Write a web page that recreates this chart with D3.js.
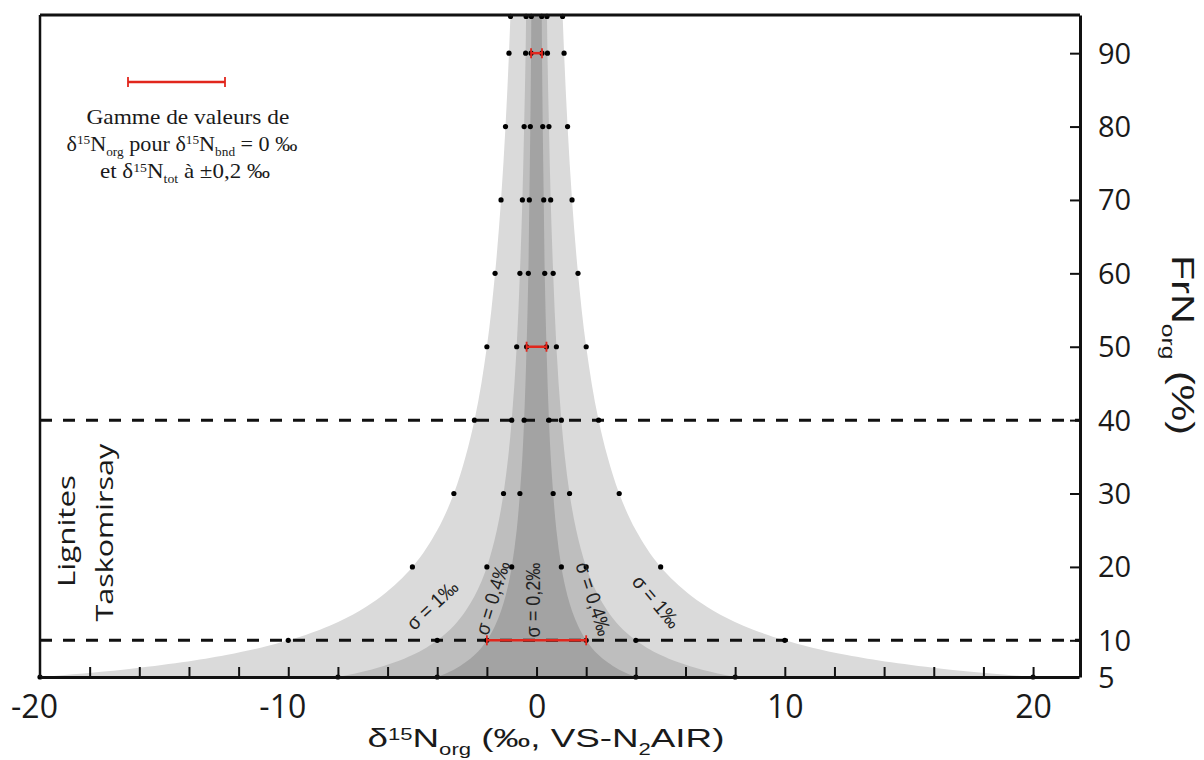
<!DOCTYPE html>
<html><head><meta charset="utf-8">
<script src="https://cdn.jsdelivr.net/npm/d3@7"></script>
<style>body{margin:0;background:#fff}svg{display:block}</style>
</head><body>
<svg id="c" width="1204" height="760"></svg>
<script>
// ---------- data ----------
const frnLevels   = [5, 6, 7, 8, 9, 10, 12, 14, 16, 18, 20, 25, 30, 35, 40, 50, 60, 70, 80, 90, 95.2];
const bandSigma1  = [20, 16.67, 14.29, 12.5, 11.11, 10, 8.33, 7.14, 6.25, 5.56, 5, 4, 3.33, 2.86, 2.5, 2, 1.67, 1.43, 1.25, 1.11, 1.05];
const bandSigma04 = [8, 6.67, 5.71, 5, 4.44, 4, 3.33, 2.86, 2.5, 2.22, 2, 1.6, 1.33, 1.14, 1, 0.8, 0.67, 0.57, 0.5, 0.44, 0.42];
const bandSigma02 = [4, 3.33, 2.86, 2.5, 2.22, 2, 1.67, 1.43, 1.25, 1.11, 1, 0.8, 0.67, 0.57, 0.5, 0.4, 0.33, 0.29, 0.25, 0.22, 0.21];

const dotLevels = [5, 10, 20, 30, 40, 50, 60, 70, 80, 90, 95];
const dotValues = [
  [-20, -8, -4, 4, 8, 20],
  [-10, -4, -2, 2, 4, 10],
  [-5, -2, -1, 1, 2, 5],
  [-3.33, -1.33, -0.67, 0.67, 1.33, 3.33],
  [-2.5, -1, -0.5, 0.5, 1, 2.5],
  [-2, -0.8, -0.4, 0.4, 0.8, 2],
  [-1.67, -0.67, -0.33, 0.33, 0.67, 1.67],
  [-1.43, -0.57, -0.29, 0.29, 0.57, 1.43],
  [-1.25, -0.5, -0.25, 0.25, 0.5, 1.25],
  [-1.11, -0.44, -0.22, 0.22, 0.44, 1.11],
  [-1.05, -0.42, -0.21, 0.21, 0.42, 1.05]
];
const errLevels = [10, 50, 90];
const errHalf   = [2, 0.4, 0.22];
const dashedLevels = [10, 40];

const xMajorTicks = [-20, -10, 0, 10, 20];
const xMinorTicks = [-18, -16, -14, -12, -10, -8, -6, -4, -2, 0, 2, 4, 6, 8, 10, 12, 14, 16, 18, 20];
const yTicks      = [10, 20, 30, 40, 50, 60, 70, 80, 90];
const yTickLabels = [5, 10, 20, 30, 40, 50, 60, 70, 80, 90];

const sigmaLabels = ["σ = 1‰", "σ = 0,4‰", "σ = 0,2‰", "σ = 0,4‰", "σ = 1‰"];

// ---------- layout ----------
const svg = d3.select("#c");
const X0 = 40, X1 = 1079, Y0 = 677, Y1 = 15;
const x = d3.scaleLinear().domain([-20, 21.85]).range([X0, X1]);
const y = d3.scaleLinear().domain([5, 95.2]).range([Y0, Y1]);
const SANS = "'Liberation Sans', Arial, sans-serif";
const MYR = "'Open Sans', sans-serif";
const SERIF = "'Liberation Serif', 'Times New Roman', serif";
const RED = "#e1261c";

svg.append("defs").append("clipPath").attr("id", "plot")
  .append("rect").attr("x", X0).attr("y", Y1).attr("width", X1 - X0).attr("height", Y0 - Y1);

// bands
const area = d3.area().curve(d3.curveMonotoneY)
  .x0(d => x(-d.v)).x1(d => x(d.v)).y(d => y(d.f));
const bandG = svg.append("g").attr("clip-path", "url(#plot)");
[[bandSigma1, "#dadada"], [bandSigma04, "#bebebe"], [bandSigma02, "#a3a3a3"]].forEach(([vals, fill]) => {
  bandG.append("path").datum(frnLevels.map((f, i) => ({ f, v: vals[i] })))
    .attr("d", area).attr("fill", fill);
});

// dashed lines
svg.append("g").selectAll("line").data(dashedLevels).join("line")
  .attr("x1", X0).attr("x2", X1).attr("y1", d => y(d)).attr("y2", d => y(d))
  .attr("stroke", "#111").attr("stroke-width", 3).attr("stroke-dasharray", "12,11");

// dots
const dots = [];
dotLevels.forEach((f, i) => dotValues[i].forEach(v => dots.push({ f, v })));
svg.append("g").selectAll("circle").data(dots).join("circle")
  .attr("cx", d => x(d.v)).attr("cy", d => y(d.f)).attr("r", 2.6).attr("fill", "#000");

// red error bars
const errG = svg.append("g").attr("stroke", RED).attr("stroke-width", 2.5).attr("fill", "none");
errLevels.forEach((f, i) => {
  const a = x(-errHalf[i]), b = x(errHalf[i]), yy = y(f);
  errG.append("line").attr("x1", a).attr("x2", b).attr("y1", yy).attr("y2", yy);
  errG.append("line").attr("x1", a).attr("x2", a).attr("y1", yy - 5).attr("y2", yy + 5).attr("stroke-width", 1.8);
  errG.append("line").attr("x1", b).attr("x2", b).attr("y1", yy - 5).attr("y2", yy + 5).attr("stroke-width", 1.8);
});

// frame: top and left
svg.append("line").attr("x1", X0).attr("x2", X1 + 1).attr("y1", Y1).attr("y2", Y1).attr("stroke", "#111").attr("stroke-width", 3);
svg.append("line").attr("x1", X0).attr("x2", X0).attr("y1", Y1).attr("y2", Y0).attr("stroke", "#111").attr("stroke-width", 2.5);

// bottom axis (inward ticks)
const xAx = svg.append("g").attr("transform", `translate(0,${Y0})`)
  .call(d3.axisBottom(x).tickValues(xMinorTicks).tickSize(-10).tickSizeOuter(0).tickFormat(""));
xAx.select(".domain").attr("stroke", "#111").attr("stroke-width", 3);
xAx.selectAll(".tick line").attr("stroke", "#111").attr("stroke-width", 2);
const xLab = svg.append("g").attr("transform", `translate(0,${Y0})`)
  .call(d3.axisBottom(x).tickValues(xMajorTicks).tickSize(0).tickFormat(d => String(d)));
xLab.select(".domain").remove();
xLab.selectAll("text").attr("font-family", MYR).attr("font-size", 32).attr("fill", "#1a1a1a")
  .attr("y", 41).attr("dy", 0).attr("dx", d => d < 0 ? -6 : 0);

// right axis (inward ticks)
const yAx = svg.append("g").attr("transform", `translate(${X1 + 1},0)`)
  .call(d3.axisRight(y).tickValues(yTicks).tickSize(-10).tickSizeOuter(0).tickFormat(""));
yAx.select(".domain").attr("stroke", "#111").attr("stroke-width", 3);
yAx.selectAll(".tick line").attr("stroke", "#111").attr("stroke-width", 2);
const yLab = svg.append("g").attr("transform", `translate(${X1 + 1},0)`)
  .call(d3.axisRight(y).tickValues(yTickLabels).tickSize(0).tickPadding(18).tickFormat(d => String(d)));
yLab.select(".domain").remove();
yLab.selectAll("text").attr("font-family", MYR).attr("font-size", 29).attr("fill", "#1a1a1a")
  .attr("dy", 10);

// ---------- text helpers ----------
function rich(segs, fs, family, fill, supOff, subOff) {
  const t = svg.append("text").attr("font-family", family).attr("font-size", fs).attr("fill", fill || "#1a1a1a");
  let cur = 0;
  segs.forEach(([s, k]) => {
    const off = k === "sup" ? -(supOff || 0.36) * fs : k === "sub" ? (subOff || 0.32) * fs : 0;
    const ts = t.append("tspan").attr("dy", off - cur).text(s);
    if (k !== "n") ts.attr("font-size", fs * 0.6);
    cur = off;
  });
  return t;
}
function place(t, cx, cy, ang, len) {
  const bb = t.node().getBBox();
  const s = len ? len / bb.width : 1;
  t.attr("transform", `translate(${cx},${cy}) rotate(${ang}) scale(${s},1) translate(${-(bb.x + bb.width / 2)},0)`);
}

// axis titles
place(rich([["δ", "n"], ["15", "sup"], ["N", "n"], ["org", "sub"], [" (‰, VS-N", "n"], ["2", "sub"], ["AIR)", "n"]], 26, SANS, null, 0.28, 0.32), 546, 747, 0, 357);
place(rich([["FrN", "n"], ["org", "sub"], [" (%)", "n"]], 31, SANS), 1172, 345, 90, 180);

// Lignites Taskomirsay
place(rich([["Lignites", "n"]], 24, MYR), 75, 531, -90, 112);
place(rich([["Taskomirsay", "n"]], 24, MYR), 113, 532, -90, 179);

// sigma labels
const sigPos = [[437, 610, -43, 62], [499, 600, -73, 76], [540, 600, -90, 75], [587, 601, 72, 76], [651, 606, 50, 62]];
sigmaLabels.forEach((s, i) => {
  const t = rich([[s, "n"]], 20, SANS, "#222");
  t.attr("dy", "0.35em");
  place(t, ...sigPos[i]);
});

// legend
const lg = svg.append("g").attr("stroke", RED).attr("stroke-width", 2.5);
lg.append("line").attr("x1", 128).attr("x2", 225).attr("y1", 82).attr("y2", 82);
lg.append("line").attr("x1", 128).attr("x2", 128).attr("y1", 77).attr("y2", 87).attr("stroke-width", 1.8);
lg.append("line").attr("x1", 225).attr("x2", 225).attr("y1", 77).attr("y2", 87).attr("stroke-width", 1.8);
place(rich([["Gamme de valeurs de", "n"]], 21, SERIF), 188, 124, 0, 203);
place(rich([["δ", "n"], ["15", "sup"], ["N", "n"], ["org", "sub"], [" pour δ", "n"], ["15", "sup"], ["N", "n"], ["bnd", "sub"], [" = 0 ‰", "n"]], 21, SERIF, null, 0.34, 0.24), 182, 151, 0, 231);
place(rich([["et δ", "n"], ["15", "sup"], ["N", "n"], ["tot", "sub"], [" à ±0,2 ‰", "n"]], 21, SERIF, null, 0.3, 0.26), 185, 178, 0, 170);
</script>
</body></html>
